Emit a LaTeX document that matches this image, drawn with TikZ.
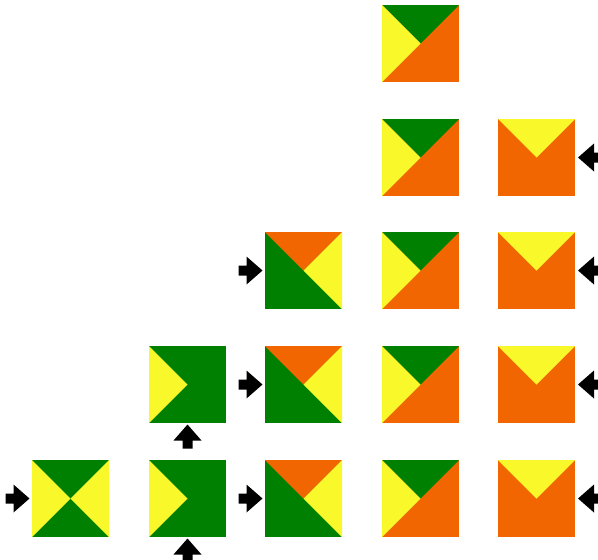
\documentclass[tikz,border=0pt]{standalone}
\definecolor{tgreen}{RGB}{0,128,0}
\definecolor{tyellow}{RGB}{248,248,42}
\definecolor{torange}{RGB}{241,102,0}
\tikzset{
  tile/.style={rectangle, inner sep=0pt, minimum size=77pt, draw=none},
  tileA/.style={tile, fill=tgreen, path picture={
    \fill[tyellow] (path picture bounding box.north west) -- (path picture bounding box.center) -- (path picture bounding box.south west) -- cycle;
    \fill[tyellow] (path picture bounding box.north east) -- (path picture bounding box.center) -- (path picture bounding box.south east) -- cycle;}},
  tileB/.style={tile, fill=tgreen, path picture={
    \fill[tyellow] (path picture bounding box.north west) -- (path picture bounding box.center) -- (path picture bounding box.south west) -- cycle;}},
  tileC/.style={tile, fill=tgreen, path picture={
    \fill[torange] (path picture bounding box.north west) -- (path picture bounding box.north east) -- (path picture bounding box.center) -- cycle;
    \fill[tyellow] (path picture bounding box.north east) -- (path picture bounding box.south east) -- (path picture bounding box.center) -- cycle;}},
  tileD/.style={tile, fill=torange, path picture={
    \fill[tgreen] (path picture bounding box.north west) -- (path picture bounding box.north east) -- (path picture bounding box.center) -- cycle;
    \fill[tyellow] (path picture bounding box.north west) -- (path picture bounding box.south west) -- (path picture bounding box.center) -- cycle;}},
  tileE/.style={tile, fill=torange, path picture={
    \fill[tyellow] (path picture bounding box.north west) -- (path picture bounding box.north east) -- (path picture bounding box.center) -- cycle;}},
  blk/.pic={\fill[black] (0,0) -- (-16,14) -- (-16,5) -- (-24,5) -- (-24,-5) -- (-16,-5) -- (-16,-14) -- cycle;},
}
\begin{document}
\begin{tikzpicture}[x=1pt,y=-1pt]
\useasboundingbox (0,0) rectangle (598,560);
% column D
\node[tileD] (d1) at (420.5,43.5) {};
\node[tileD] (d2) at (420.5,157.5) {};
\node[tileD] (d3) at (420.5,270.5) {};
\node[tileD] (d4) at (420.5,384.5) {};
\node[tileD] (d5) at (420.5,498.5) {};
% column E
\node[tileE] (e2) at (536.5,157.5) {};
\node[tileE] (e3) at (536.5,270.5) {};
\node[tileE] (e4) at (536.5,384.5) {};
\node[tileE] (e5) at (536.5,498.5) {};
% column C
\node[tileC] (c3) at (303.5,270.5) {};
\node[tileC] (c4) at (303.5,384.5) {};
\node[tileC] (c5) at (303.5,498.5) {};
% column B
\node[tileB] (b4) at (187.5,384.5) {};
\node[tileB] (b5) at (187.5,498.5) {};
% column A
\node[tileA] (a5) at (70.5,498.5) {};
% arrows (tip positions)
\pic (ra5) at (29.5,498.5) {blk};
\pic (rc3) at (262.5,270.5) {blk};
\pic (rc4) at (262.5,384.5) {blk};
\pic (rc5) at (262.5,498.5) {blk};
\pic[rotate=90] (ub4) at (187.5,424.5) {blk};
\pic[rotate=90] (ub5) at (187.5,538.5) {blk};
\pic[rotate=180] (le2) at (578,157.5) {blk};
\pic[rotate=180] (le3) at (578,270.5) {blk};
\pic[rotate=180] (le4) at (578,384.5) {blk};
\pic[rotate=180] (le5) at (578,498.5) {blk};
\end{tikzpicture}
\end{document}
